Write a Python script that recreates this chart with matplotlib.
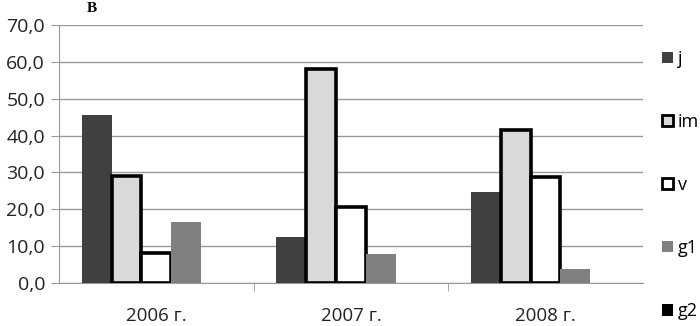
import matplotlib.pyplot as plt
import numpy as np
from matplotlib.patches import Patch
from matplotlib.ticker import FuncFormatter

years = ["2006 г.", "2007 г.", "2008 г."]
series = ["j", "im", "v", "g1", "g2"]
j = [45.5, 12.5, 24.7]
im = [29.0, 58.0, 41.5]
v = [8.1, 20.6, 28.7]
g1 = [16.5, 7.9, 3.8]
g2 = [0.0, 0.0, 0.0]

faces = ["#404040", "#d9d9d9", "#ffffff", "#808080", "#000000"]
edges = [None, "black", "black", None, None]

plt.rcParams['font.family'] = ['Open Sans', 'DejaVu Sans']

fig = plt.figure(figsize=(7, 3.26), dpi=100)
ax = fig.add_axes([0.0843, 0.132, 0.834, 0.791])

x = np.arange(len(years))
w = 0.153
for i, (name, vals) in enumerate(zip(series, [j, im, v, g1, g2])):
    pos = x + (i - 2) * w
    if edges[i]:
        ax.bar(pos, vals, w, color=faces[i], edgecolor=edges[i], linewidth=2.6, zorder=3)
    else:
        ax.bar(pos, vals, w, color=faces[i], linewidth=0, zorder=3)

ax.set_xlim(-0.5, 2.5)
ax.set_ylim(0, 70)
ax.set_yticks(np.arange(0, 71, 10))
ax.yaxis.set_major_formatter(FuncFormatter(lambda val, p: f"{val:.1f}".replace(".", ",")))
ax.set_xticks(x)
ax.set_xticklabels(years)
ax.set_xticks([0.5, 1.5], minor=True)
ax.tick_params(axis='x', which='major', length=0, pad=17, labelsize=13.5, colors='#222222')
ax.tick_params(axis='x', which='minor', length=6, color='#999999', direction='out')
ax.tick_params(axis='y', length=6, color='#999999', labelsize=14, labelcolor='#222222', pad=4)
ax.grid(axis='y', color='#999999', linewidth=1, zorder=0)
for s in ['top', 'right']:
    ax.spines[s].set_visible(False)
ax.spines['left'].set_color('#999999')
ax.spines['bottom'].set_color('#999999')

handles = [Patch(facecolor=faces[i], edgecolor=edges[i] if edges[i] else faces[i],
                 linewidth=2 if edges[i] else 0) for i in range(len(series))]
fig.legend(handles, series, loc='upper left', bbox_to_anchor=(0.935, 0.87),
           frameon=False, fontsize=13, handlelength=0.6, handleheight=0.6,
           handletextpad=0.3, labelspacing=2.5, borderaxespad=0)

fig.text(0.124, 0.975, "В", fontsize=11, fontweight='bold', family='Liberation Serif',
         va='center', ha='left')

fig.savefig("out.png", dpi=100)
